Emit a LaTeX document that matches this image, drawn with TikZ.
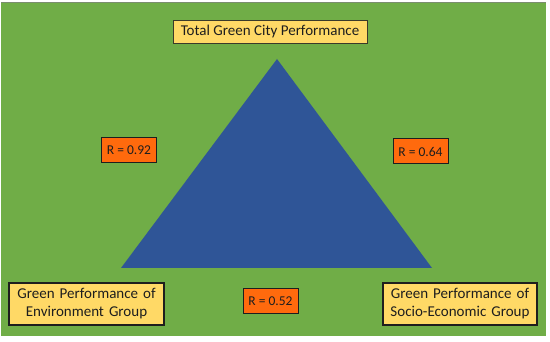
\documentclass[tikz,border=0pt]{standalone}
\usepackage{fontspec}
\setmainfont{Carlito}
\usetikzlibrary{positioning}
\definecolor{leaf}{HTML}{70AD47}
\definecolor{deep}{HTML}{2F5597}
\definecolor{ink}{HTML}{1E1E1E}
\definecolor{sun}{HTML}{FFD966}
\definecolor{flame}{HTML}{FF6A0D}
\definecolor{frame}{HTML}{3A3A2A}
\tikzset{
  label/.style={draw=frame,line width=.6pt,fill=sun,inner sep=0pt,align=center,font=\fontsize{15}{18}\selectfont,text=ink},
  labelb/.style={label,line width=1.3pt,draw=ink},
  rval/.style={draw=ink,line width=1pt,fill=flame,inner sep=0pt,minimum width=55pt,minimum height=25pt,font=\fontsize{13.5}{15}\selectfont,text=ink},
}

\begin{document}
\begin{tikzpicture}[x=1pt,y=-1pt]
  \useasboundingbox (0,0) rectangle (550,342);
  % -- backdrop --
  \fill[white] (0,0) rectangle (550,342);
  \fill[leaf] (1,2) rectangle (546,336);
  \draw[gray!70!leaf,line width=.8pt] (1,2.4) -- (546,2.4);
  % -- triangle --
  \coordinate (apex) at (277,59);
  \coordinate (envc) at (121,268);
  \coordinate (socc) at (432,268);
  \fill[deep] (apex) -- (envc) -- (socc) -- cycle;
  % -- groups --
  \node[label,minimum width=194pt,minimum height=23pt] (total) at (270,31.5) {Total Green City Performance};
  \node[labelb,minimum width=155pt,minimum height=42pt,text width=150pt] (env) at (86.5,304) {Green Performance of\\Environment Group};
  \node[labelb,minimum width=154pt,minimum height=42pt,text width=150pt] (soc) at (460,304) {Green Performance of\\Socio-Economic Group};
  % -- correlations --
  \node[rval] (rte) at (129,150.5) {R = 0.92};
  \node[rval] (rts) at (420.5,151.5) {R = 0.64};
  \node[rval] (res) at (270.5,301.5) {R = 0.52};
\end{tikzpicture}
\end{document}
